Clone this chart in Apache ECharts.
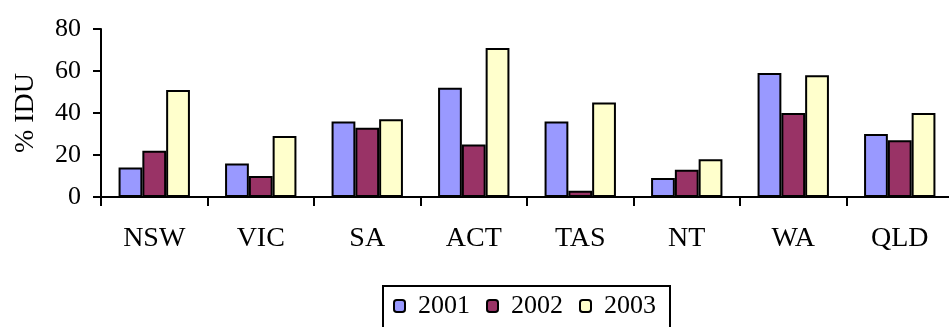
<!DOCTYPE html>
<html>
<head>
<meta charset="utf-8">
<style>
  html, body { margin: 0; padding: 0; background: #fff; }
  #chart { width: 949px; height: 327px; }
</style>
<script src="https://cdn.jsdelivr.net/npm/echarts@6/dist/echarts.min.js"></script>
</head>
<body>
<div id="chart"></div>
<script>
// Share of injecting drug users by state / territory, three survey years
const states = ['NSW', 'VIC', 'SA', 'ACT', 'TAS', 'NT', 'WA', 'QLD'];
const years = ['2001', '2002', '2003'];
const values2001 = [14, 16, 36, 52, 36, 9, 59, 30];
const values2002 = [22, 10, 33, 25, 3, 13, 40, 27];
const values2003 = [51, 29, 37, 71, 45, 18, 58, 40];
const yTicks = [0, 20, 40, 60, 80];

const fills = ['#9999FF', '#993366', '#FFFFCC'];
const font = '"Liberation Serif", "DejaVu Serif", serif';

const chart = echarts.init(document.getElementById('chart'));

const seriesData = [values2001, values2002, values2003];

chart.setOption({
  animation: false,
  textStyle: { fontFamily: font, color: '#000' },
  grid: {
    left: 101, top: 29, width: 852, height: 168,
    containLabel: false,
    outerBoundsMode: 'none'
  },
  legend: {
    data: years,
    left: 383,
    top: 286,
    padding: [7, 14, 20, 10],
    borderColor: '#000',
    borderWidth: 2,
    itemWidth: 11,
    itemHeight: 12,
    itemGap: 16,
    textStyle: { fontFamily: font, fontSize: 26, color: '#000', padding: [0, 0, 0, 8] },
    itemStyle: { borderColor: '#000', borderWidth: 2 }
  },
  xAxis: {
    type: 'category',
    data: states,
    axisLine: { lineStyle: { color: '#000', width: 2 } },
    axisTick: { show: true, length: 9, lineStyle: { color: '#000', width: 2 } },
    axisLabel: { fontSize: 28, color: '#000', margin: 28, fontFamily: font }
  },
  yAxis: {
    type: 'value',
    min: yTicks[0],
    max: yTicks[yTicks.length - 1],
    interval: 20,
    name: '% IDU',
    nameLocation: 'middle',
    nameGap: 61,
    nameRotate: 90,
    nameTextStyle: { fontSize: 28, color: '#000', fontFamily: font },
    axisLine: { show: true, lineStyle: { color: '#000', width: 2 } },
    axisTick: { show: true, length: 8, lineStyle: { color: '#000', width: 2 } },
    axisLabel: { fontSize: 26, color: '#000', margin: 20, fontFamily: font },
    splitLine: { show: false }
  },
  series: years.map((y, i) => ({
    name: y,
    type: 'bar',
    data: seriesData[i],
    barGap: '0%',
    barCategoryGap: '33%',
    itemStyle: { color: fills[i], borderColor: '#000', borderWidth: 2 }
  }))
});
</script>
</body>
</html>
